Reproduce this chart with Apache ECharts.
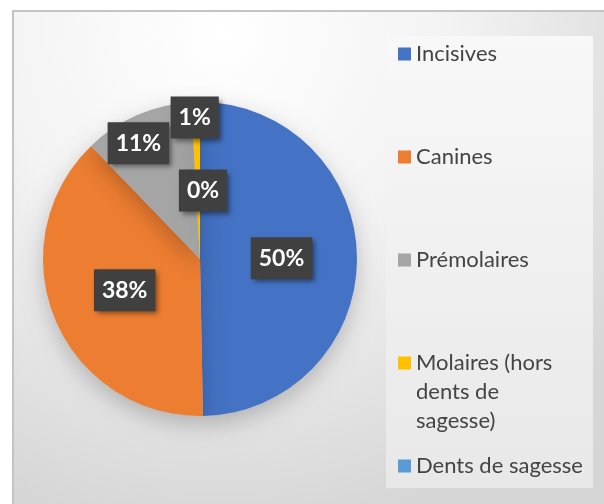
<!DOCTYPE html>
<html>
<head>
<meta charset="utf-8">
<script src="https://cdn.jsdelivr.net/npm/echarts@6/dist/echarts.min.js"></script>
<style>
  html, body { margin: 0; padding: 0; background: #fff; }
  #chart { width: 604px; height: 504px; }
</style>
</head>
<body>
<div id="chart"></div>
<script>
  // 数据
  var categories = ['Incisives', 'Canines', 'Prémolaires', 'Molaires (hors dents de sagesse)', 'Dents de sagesse']
  var legendNames = ['Incisives', 'Canines', 'Prémolaires', 'Molaires (hors\ndents de\nsagesse)', 'Dents de sagesse']
  var values = [49.7, 38.1, 11.3, 0.9, 0]
  var colors = ['#4472C4', '#ED7D31', '#A5A5A5', '#FFC000', '#5B9BD5']

  // 标签偏移 (小扇区的标签被移开)
  var labelOffsets = [[0, 0], [0, 0], [-29, -41], [-3, -60], [3, 13]]
  // 图例位置 (图标中心 y)
  var legendCenters = [54, 157, 260, 363, 466]

  var chart = echarts.init(document.getElementById('chart'))

  var pieData = categories.map(function (name, i) {
    return {
      name: name,
      value: values[i],
      itemStyle: { color: colors[i] },
      label: { offset: labelOffsets[i] }
    }
  })

  var lh = 29
  var legends = categories.map(function (name, i) {
    var lines = legendNames[i].split('\n').length
    // 多行文字: 前面补空行, 让第一行和图标对齐
    var text = legendNames[i]
    for (var k = 1; k < lines; k++) text = ' \n' + text
    var total = lines * 2 - 1
    return {
      orient: 'vertical',
      left: 398,
      top: legendCenters[i] - total * lh / 2,
      padding: 0,
      itemWidth: 13,
      itemHeight: 13,
      icon: 'rect',
      selectedMode: false,
      data: [name],
      formatter: function () { return text },
      textStyle: {
        fontFamily: 'Lato',
        fontSize: 22,
        color: '#444',
        lineHeight: lh
      }
    }
  })

  chart.setOption({
    backgroundColor: '#fff',
    animation: false,
    graphic: [
      {
        type: 'rect',
        z: -10,
        shape: { x: 13, y: 11, width: 600, height: 500 },
        style: {
          fill: new echarts.graphic.RadialGradient(0.35, 0.05, 1.0, [
            { offset: 0, color: '#ffffff' },
            { offset: 0.45, color: '#f3f3f3' },
            { offset: 1, color: '#d6d6d6' }
          ]),
          stroke: '#c4c4c4',
          lineWidth: 2
        }
      },
      {
        // 图例区域
        type: 'rect',
        z: -9,
        shape: { x: 386, y: 36, width: 207, height: 452 },
        style: {
          fill: new echarts.graphic.LinearGradient(0, 0, 0, 1, [
            { offset: 0, color: '#f8f8f8' },
            { offset: 1, color: '#e8e8e8' }
          ])
        }
      }
    ],
    legend: legends,
    series: [
      {
        type: 'pie',
        center: [200, 259],
        radius: 157,
        startAngle: 90,
        clockwise: true,
        avoidLabelOverlap: false,
        itemStyle: {
          borderWidth: 0,
          shadowColor: 'rgba(0, 0, 0, 0.22)',
          shadowBlur: 22,
          shadowOffsetY: 8
        },
        label: {
          show: true,
          position: 'inside',
          formatter: function (p) { return Math.round(p.percent) + '%' },
          fontFamily: 'Lato',
          fontWeight: 'bold',
          fontSize: 23,
          lineHeight: 24,
          color: '#fff',
          backgroundColor: '#404040',
          padding: [9, 8, 9, 8],
          shadowColor: 'rgba(0, 0, 0, 0.45)',
          shadowBlur: 5,
          shadowOffsetX: 3,
          shadowOffsetY: 3
        },
        labelLine: { show: false },
        emphasis: { disabled: true },
        data: pieData
      }
    ]
  })
</script>
</body>
</html>
